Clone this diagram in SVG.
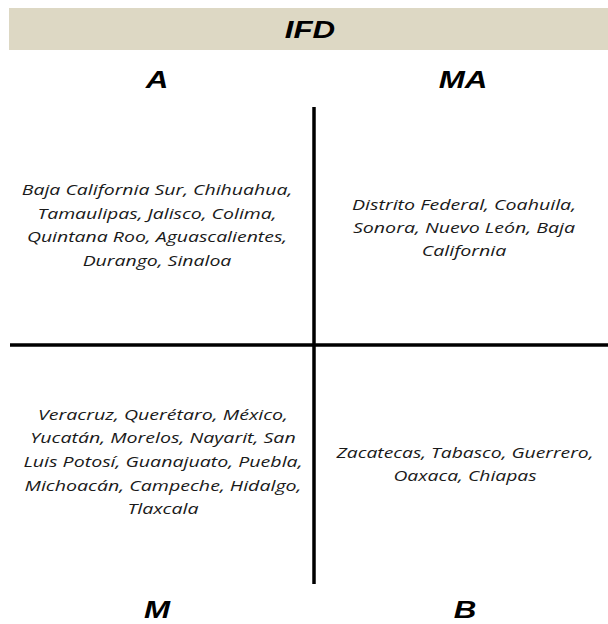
<svg xmlns="http://www.w3.org/2000/svg" width="608" height="624" viewBox="0 0 608 624">
<style>
.hd{font-family:"Liberation Sans",Arial,sans-serif;font-weight:bold;font-style:italic;font-size:23px;fill:#000;text-anchor:middle}
.tx{font-family:"Open Sans","Liberation Sans",sans-serif;font-style:italic;font-size:14px;fill:#1a1a1a;text-anchor:middle}
.ax{stroke:#000;stroke-width:3.5;fill:none}
</style>
<rect width="608" height="624" fill="#fff"/>
<g id="header">
<rect x="9" y="8" width="599" height="42" fill="#ddd8c4"/>
<text class="hd" transform="translate(310 38) scale(1.36 1)">IFD</text>
</g>
<g id="connectors">
<line class="ax" x1="314" y1="107" x2="314" y2="584"/>
<line class="ax" x1="10" y1="345" x2="608" y2="345"/>
</g>
<g id="label-A"><text class="hd" transform="translate(157 88) scale(1.36 1)">A</text></g>
<g id="label-MA"><text class="hd" transform="translate(463 88) scale(1.36 1)">MA</text></g>
<g id="label-M"><text class="hd" transform="translate(157 618) scale(1.36 1)">M</text></g>
<g id="label-B"><text class="hd" transform="translate(465 618) scale(1.36 1)">B</text></g>
<g id="q-A" transform="translate(157 0) scale(1.39 1)">
<text class="tx" x="0" y="195">Baja California Sur, Chihuahua,</text>
<text class="tx" x="0" y="219">Tamaulipas, Jalisco, Colima,</text>
<text class="tx" x="0" y="242">Quintana Roo, Aguascalientes,</text>
<text class="tx" x="0" y="266">Durango, Sinaloa</text>
</g>
<g id="q-MA" transform="translate(464 0) scale(1.4 1)">
<text class="tx" x="0" y="210">Distrito Federal, Coahuila,</text>
<text class="tx" x="0" y="233">Sonora,  Nuevo León, Baja</text>
<text class="tx" x="0" y="256">California</text>
</g>
<g id="q-M" transform="translate(163 0) scale(1.4 1)">
<text class="tx" x="0" y="420">Veracruz, Querétaro, México,</text>
<text class="tx" x="0" y="443">Yucatán, Morelos, Nayarit, San</text>
<text class="tx" x="0" y="467">Luis Potosí, Guanajuato, Puebla,</text>
<text class="tx" x="0" y="491">Michoacán, Campeche, Hidalgo,</text>
<text class="tx" x="0" y="514">Tlaxcala</text>
</g>
<g id="q-B" transform="translate(465 0) scale(1.38 1)">
<text class="tx" x="0" y="458">Zacatecas, Tabasco, Guerrero,</text>
<text class="tx" x="0" y="481">Oaxaca, Chiapas</text>
</g>
</svg>
